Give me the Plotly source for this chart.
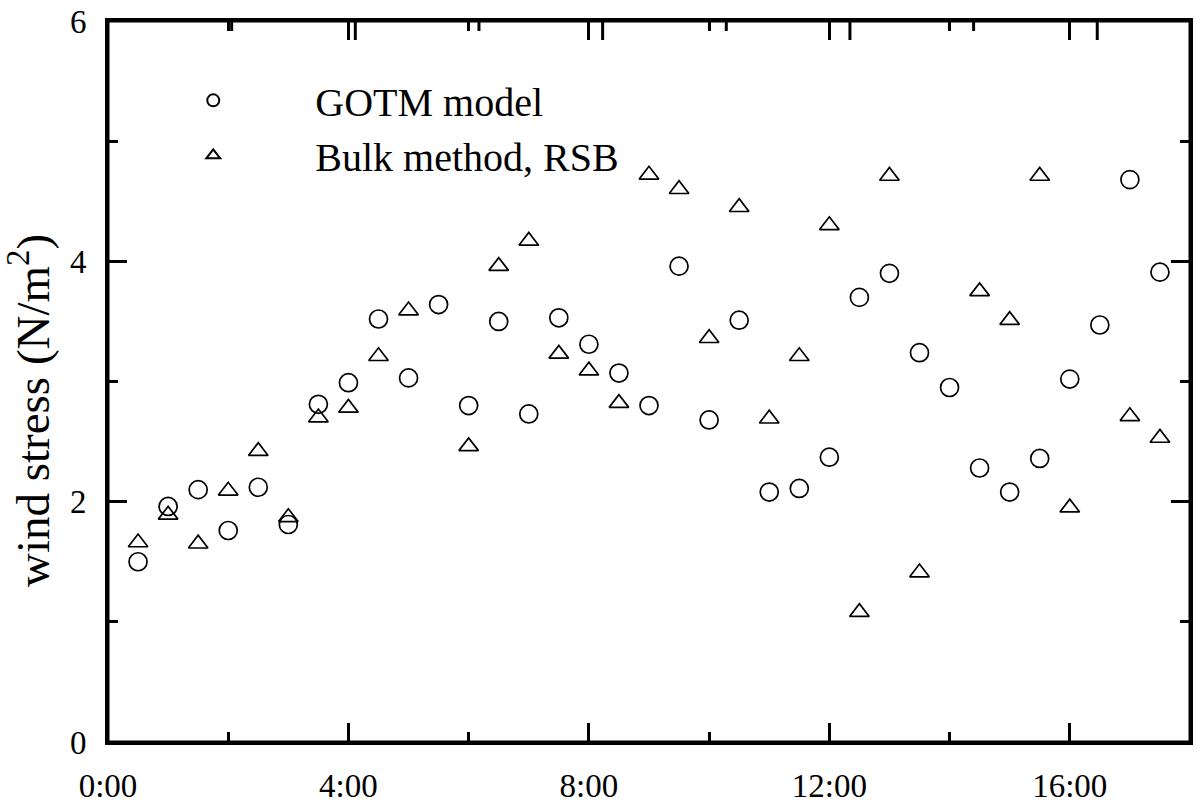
import plotly.graph_objects as go

# time in hours, half-hour samples
hours = [0.5, 1.0, 1.5, 2.0, 2.5, 3.0, 3.5, 4.0, 4.5, 5.0, 5.5, 6.0,
         6.5, 7.0, 7.5, 8.0, 8.5, 9.0, 9.5, 10.0, 10.5, 11.0, 11.5, 12.0,
         12.5, 13.0, 13.5, 14.0, 14.5, 15.0, 15.5, 16.0, 16.5, 17.0, 17.5]

gotm = [1.50, 1.96, 2.10, 1.76, 2.12, 1.81, 2.81, 2.99, 3.52, 3.03, 3.64, 2.80,
        3.50, 2.73, 3.53, 3.31, 3.07, 2.80, 3.96, 2.68, 3.51, 2.08, 2.11, 2.37,
        3.70, 3.90, 3.24, 2.95, 2.28, 2.08, 2.36, 3.02, 3.47, 4.68, 3.91]

# bulk method: no values at 5:30, 14:00 and 16:30
bulk_hours = [0.5, 1.0, 1.5, 2.0, 2.5, 3.0, 3.5, 4.0, 4.5, 5.0, 6.0,
              6.5, 7.0, 7.5, 8.0, 8.5, 9.0, 9.5, 10.0, 10.5, 11.0, 11.5, 12.0,
              12.5, 13.0, 13.5, 14.5, 15.0, 15.5, 16.0, 17.0, 17.5]
bulk = [1.66, 1.89, 1.65, 2.09, 2.42, 1.87, 2.70, 2.78, 3.21, 3.59, 2.46,
        3.96, 4.17, 3.23, 3.09, 2.82, 4.72, 4.60, 3.36, 4.45, 2.69, 3.21, 4.30,
        1.08, 4.71, 1.41, 3.75, 3.51, 4.71, 1.95, 2.71, 2.53]

tick_vals = [0, 4, 8, 12, 16]
tick_text = ["0:00", "4:00", "8:00", "12:00", "16:00"]
top_span = 17.5  # the top axis ticks in the original are spaced a little wider
top_major = [4, 8, 12, 16]
top_minor = [2, 6, 10, 14]

FONT = "Liberation Serif"

fig = go.Figure()
fig.add_trace(go.Scatter(
    x=hours, y=gotm, mode="markers", name="GOTM model", legendgroup="a",
    marker=dict(symbol="circle-open", size=18, color="black", line=dict(width=1.7))))
fig.add_trace(go.Scatter(
    x=bulk_hours, y=bulk, mode="markers", name="Bulk method, RSB", legendgroup="b",
    marker=dict(symbol="triangle-up-open", size=17, color="black", line=dict(width=1.7))))

minor_ticks = dict(ticks="inside", ticklen=10, tickwidth=3, tickcolor="black")
axis_common = dict(showline=True, linewidth=3, linecolor="black", ticks="inside",
                   tickwidth=3, ticklen=19, tickcolor="black", showgrid=False,
                   zeroline=False, automargin=False, mirror="ticks",
                   tickfont=dict(family=FONT, size=33, color="black"))

# frame drawn as a shape so the top edge is always there, plus the top ticks
shapes = [dict(type="rect", xref="paper", yref="paper", x0=0, x1=1, y0=0, y1=1,
               line=dict(color="black", width=3), layer="above")]
for v, ln in [(v, 19) for v in top_major] + [(v, 10) for v in top_minor]:
    shapes.append(dict(type="line", xref="paper", yref="paper",
                       x0=v / top_span, x1=v / top_span,
                       ysizemode="pixel", yanchor=1, y0=0, y1=-ln,
                       line=dict(color="black", width=3), layer="above"))

fig.update_layout(
    width=1200, height=806,
    margin=dict(l=108, r=10, t=21, b=64),
    plot_bgcolor="white", paper_bgcolor="white",
    font=dict(family=FONT, size=33, color="black"),
    showlegend=True,
    legend=dict(x=0.003, y=0.935, xanchor="left", yanchor="top",
                font=dict(family=FONT, size=40), itemwidth=194,
                tracegroupgap=0, traceorder="grouped",
                bgcolor="rgba(0,0,0,0)", itemsizing="constant"),
    xaxis=dict(range=[0, 18], tickmode="array", tickvals=tick_vals, ticktext=tick_text,
               minor=dict(tick0=0, dtick=2, **minor_ticks),
               ticklabelstandoff=12, **axis_common),
    yaxis=dict(range=[0, 6], tick0=0, dtick=2,
               minor=dict(tick0=0, dtick=1, **minor_ticks),
               ticklabelstandoff=12, **axis_common),
    shapes=shapes,
    annotations=[dict(text="wind stress (N/m<sup>2</sup>)", textangle=-90,
                      xref="paper", yref="paper", x=0, y=0.459,
                      xanchor="center", yanchor="middle", xshift=-79,
                      showarrow=False, font=dict(family=FONT, size=47))],
)

# drop the default 8px body margin so the figure sits at the page corner
fig.write_html("out.html", config={"displayModeBar": False},
               post_script="document.body.style.margin='0px';")
